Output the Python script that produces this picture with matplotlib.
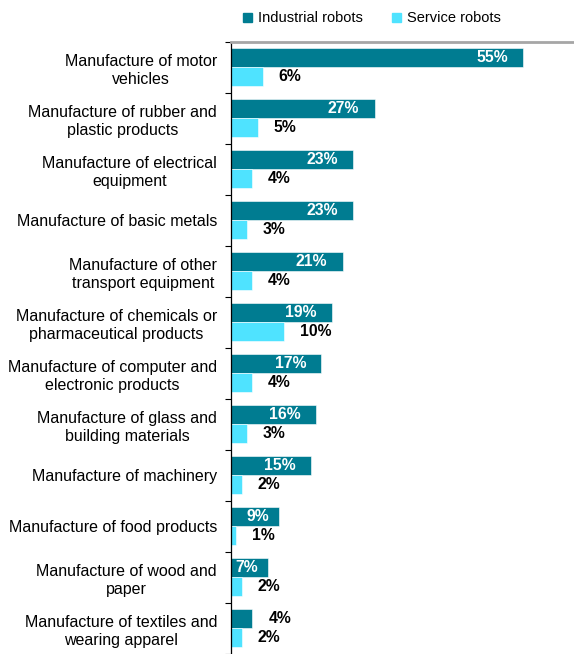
import matplotlib.pyplot as plt
from matplotlib.patches import Patch
from matplotlib.ticker import FixedLocator

plt.rcParams['font.family'] = ['Liberation Sans', 'DejaVu Sans']

categories = [
    "Manufacture of motor\nvehicles",
    "Manufacture of rubber and\nplastic products",
    "Manufacture of electrical\nequipment",
    "Manufacture of basic metals",
    "Manufacture of other\ntransport equipment",
    "Manufacture of chemicals or\npharmaceutical products",
    "Manufacture of computer and\nelectronic products",
    "Manufacture of glass and\nbuilding materials",
    "Manufacture of machinery",
    "Manufacture of food products",
    "Manufacture of wood and\npaper",
    "Manufacture of textiles and\nwearing apparel",
]
industrial = [55, 27, 23, 23, 21, 19, 17, 16, 15, 9, 7, 4]
service = [6, 5, 4, 3, 4, 10, 4, 3, 2, 1, 2, 2]

IND_COLOR = '#007C91'
SRV_COLOR = '#4FE3FF'


def plot_chart():
    fig = plt.figure(figsize=(5.74, 6.54), dpi=100)
    ax = fig.add_axes([0.4024, 0.0, 0.5976, 0.9358])

    y = list(range(len(categories)))
    y_ind = [v - 0.2 for v in y]
    y_srv = [v + 0.18 for v in y]
    ax.barh(y_ind, industrial, height=0.38, color=IND_COLOR, edgecolor='white', linewidth=0.4)
    ax.barh(y_srv, service, height=0.37, color=SRV_COLOR, edgecolor='white', linewidth=0.4)

    # industrial labels sit inside the bar unless the bar is too short
    for yi, v in zip(y_ind, industrial):
        if v >= 7:
            pad = -11 if v >= 10 else -7
            ax.annotate(f"{v}%", (v, yi), xytext=(pad, 0), textcoords='offset points',
                        ha='right', va='center', color='white', fontweight='bold', fontsize=11.3)
        else:
            ax.annotate(f"{v}%", (v, yi), xytext=(12, 0), textcoords='offset points',
                        ha='left', va='center', color='black', fontweight='bold', fontsize=11.3)
    for yi, v in zip(y_srv, service):
        ax.annotate(f"{v}%", (v, yi), xytext=(11.5, 0), textcoords='offset points',
                    ha='left', va='center', color='black', fontweight='bold', fontsize=11.3)

    ax.set_xlim(0, 64.5)
    ax.set_ylim(11.5, -0.5)
    ax.set_xticks([])
    ax.set_yticks(y)
    ax.set_yticklabels(categories, fontsize=11.5, multialignment='center', linespacing=1.25)
    ax.tick_params(axis='y', which='major', length=0, pad=10)
    ax.yaxis.set_minor_locator(FixedLocator([v - 0.5 for v in range(len(categories) + 1)]))
    ax.tick_params(axis='y', which='minor', length=4, width=0.8, direction='out')

    ax.spines['right'].set_visible(False)
    ax.spines['bottom'].set_visible(False)
    ax.spines['left'].set_color('black')
    ax.spines['left'].set_linewidth(0.9)
    ax.spines['top'].set_color('#A6A6A6')
    ax.spines['top'].set_linewidth(2)

    handles = [Patch(color=IND_COLOR, label='Industrial robots'),
               Patch(color=SRV_COLOR, label='Service robots')]
    fig.legend(handles=handles, loc='center', bbox_to_anchor=(0.648, 0.972), ncol=2,
               frameon=False, fontsize=10.5, handlelength=0.6, handleheight=0.6,
               handletextpad=0.4, columnspacing=2.0)

    fig.savefig('out.png', dpi=100)


if __name__ == "__main__":
    plot_chart()
